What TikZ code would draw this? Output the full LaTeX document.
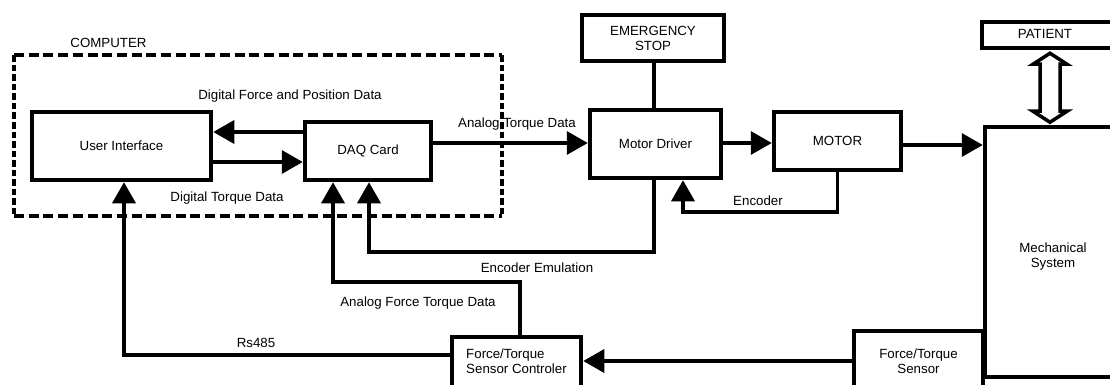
\documentclass[tikz,border=0pt]{standalone}
\usepackage{fontspec}
\setmainfont{Liberation Sans}
\usetikzlibrary{arrows.meta}
\newcommand\diafont{\fontsize{13.3}{15}\selectfont}
\begin{document}
\begin{tikzpicture}[x=1pt,y=-1pt,
  box/.style={draw, line width=4.5pt, inner sep=0pt, align=center, font=\diafont},
  conn/.style={line width=3.5pt},
  arr/.style={conn, -{Triangle[length=21pt,width=23pt]}},
  lab/.style={inner sep=0pt, font=\diafont, text height=9.6pt, text depth=0pt},
  hdash/.style={line width=4pt, dash pattern=on 10pt off 4.7pt},
  vdash/.style={line width=4pt, dash pattern=on 6.5pt off 3pt}]
\useasboundingbox (0,0) rectangle (1110,385);
\clip (0,0) rectangle (1110,385);
\fill[white] (0,0) rectangle (1110,385);

% computer frame
\node[draw=none, inner sep=0pt, outer sep=0pt, minimum width=488pt, minimum height=160.5pt] (computer) at (258,135.75) {};
\draw[hdash] (computer.north west) -- (computer.north east);
\draw[hdash] (computer.south west) -- (computer.south east);
\draw[vdash] (computer.north west) -- (computer.south west);
\draw[vdash] (computer.north east) -- (computer.south east);

% boxes
\node[box, minimum width=179pt, minimum height=68pt] (ui) at (121.5,146) {User Interface};
\node[box, minimum width=126pt, minimum height=58pt] (daq) at (368,151) {DAQ Card};
\node[box, minimum width=131pt, minimum height=68pt] (md) at (655.5,144) {Motor Driver};
\node[box, minimum width=127pt, minimum height=58pt] (motor) at (837.5,141) {MOTOR};
\node[box, minimum width=142pt, minimum height=46pt] (estop) at (653,38) {EMERGENCY\\STOP};
\node[box, minimum width=136pt, minimum height=26pt] (patient) at (1050,35) {};
\node[lab] (patienttext) at (1045,33.5) {PATIENT};
\node[box, minimum width=150pt, minimum height=250pt] (mech) at (1060,252) {};
\node[inner sep=0pt, align=center, font=\diafont] (mechtext) at (1053,256.5) {Mechanical\\System};
\node[box, minimum width=129pt, minimum height=53pt] (ftc) at (516.5,363.5) {};
\node[inner sep=0pt, align=left, font=\diafont] (ftctext) at (516.5,361.5) {Force/Torque\\Sensor Controler};
\node[box, minimum width=129pt, minimum height=60pt] (fts) at (918.5,361) {Force/Torque\\Sensor};

% connectors
\coordinate (ya) at (0,132);
\draw[arr] (daq.west |- ya) -- (ui.east |- ya);
\coordinate (yb) at (0,162);
\draw[arr] (ui.east |- yb) -- (daq.west |- yb);
\coordinate (yc) at (0,143);
\draw[arr] (daq.east |- yc) -- (md.west |- yc);
\draw[arr] (md.east |- yc) -- (motor.west |- yc);
\coordinate (yd) at (0,145);
\draw[arr] (motor.east |- yd) -- (mech.west |- yd);
\coordinate (xe) at (654,0);
\draw[conn] (xe |- estop.south) -- (xe |- md.north);
\coordinate (enc) at (683,212);
\draw[arr] (motor.south) |- (enc) -- (enc |- md.south);
\coordinate (emu) at (369,252);
\draw[arr] (xe |- md.south) |- (emu) -- (emu |- daq.south);
\coordinate (af1) at (520,282);
\coordinate (af2) at (333,282);
\draw[arr] (af1 |- ftc.north) -- (af1) -- (af2) -- (af2 |- daq.south);
\coordinate (rs) at (124,355);
\draw[arr] (ftc.west |- rs) -- (rs) -- (rs |- ui.south);
\coordinate (yf) at (0,361);
\draw[arr] (fts.west |- yf) -- (ftc.east |- yf);

% open double arrow patient <-> mechanical system
\coordinate (dt) at ([yshift=-3pt]patient.south);
\draw[line width=3.5pt, fill=white, line join=miter]
  (dt) -- ++(17,11) -- ++(-7,0) -- ++(0,47) -- ++(7,0) -- ++(-17,11)
  -- ++(-17,-11) -- ++(7,0) -- ++(0,-47) -- ++(-7,0) -- cycle;

% labels
\node[lab] (l1) at (290,95) {Digital Force and Position Data};
\node[lab] (l2) at (227,197) {Digital Torque Data};
\node[lab] (l3) at (517,123) {Analog Torque Data};
\node[lab] (l4) at (758,201) {Encoder};
\node[lab] (l5) at (537,268) {Encoder Emulation};
\node[lab] (l6) at (418,302) {Analog Force Torque Data};
\node[lab] (l7) at (256,343) {Rs485};
\node[lab] (l8) at (108.5,43) {COMPUTER};
\end{tikzpicture}
\end{document}
